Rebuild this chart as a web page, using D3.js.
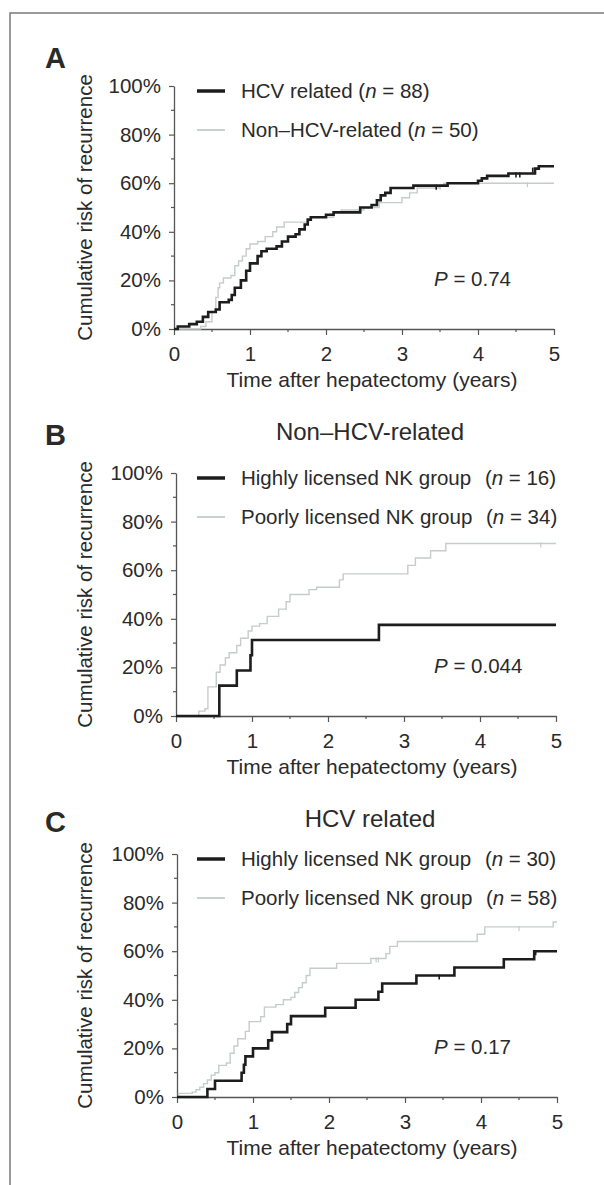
<!DOCTYPE html>
<html>
<head>
<meta charset="utf-8">
<script src="https://cdn.jsdelivr.net/npm/d3@7"></script>
<style>
  body { margin: 0; background: #fff; }
  svg text { font-family: "Liberation Sans", Arial, Helvetica, sans-serif; fill: #2a2a2a; }
</style>
</head>
<body>
<div id="chart"></div>
<script>
// Data (time in years, cumulative risk in %)
const timeTicks = [0, 1, 2, 3, 4, 5];
const pctTicks = [0, 20, 40, 60, 80, 100];

const aHcv = [[0,0],[0.05,1],[0.2,2],[0.3,3],[0.38,5],[0.45,7],[0.55,8],[0.6,11],[0.72,12],[0.76,14],[0.8,17],[0.88,20],[0.95,24],[1.0,27],[1.1,30],[1.15,32],[1.22,33],[1.35,34],[1.42,36],[1.5,38],[1.6,39],[1.65,41],[1.72,43],[1.76,45],[1.8,46],[2.0,47],[2.1,48],[2.45,50],[2.6,51],[2.67,53],[2.72,55],[2.78,56],[2.85,58],[3.15,59],[3.6,60],[4.0,61],[4.05,62],[4.12,63],[4.4,64],[4.75,66],[4.8,67],[5.0,67]];
const aNonHcv = [[0,0],[0.35,1],[0.42,3],[0.5,7],[0.55,13],[0.58,17],[0.6,19],[0.65,21],[0.75,22],[0.8,26],[0.85,28],[0.9,30],[0.95,33],[1.0,35],[1.1,36],[1.2,38],[1.3,40],[1.35,42],[1.45,44],[1.75,45],[1.8,46],[2.1,48],[2.2,49],[2.5,50],[2.7,52],[3.0,54],[3.1,56],[3.2,58],[3.5,59],[3.55,60],[5.0,60]];
const bHigh = [[0,0],[0.57,12.5],[0.8,18.75],[0.98,25],[1.0,31.25],[2.67,37.5],[5.0,37.5]];
const bPoor = [[0,0],[0.3,2],[0.38,3],[0.42,12],[0.53,18],[0.58,21],[0.65,24],[0.7,26],[0.8,29],[0.85,32],[0.95,35],[1.0,37],[1.1,38],[1.2,41],[1.35,44],[1.45,47],[1.5,50],[1.75,52],[1.85,53],[2.15,56],[2.2,58.5],[3.05,62],[3.15,65],[3.35,68],[3.55,71],[5.0,71]];
const cHigh = [[0,0],[0.4,3.3],[0.5,6.7],[0.85,10],[0.88,13.3],[0.9,16.7],[1.0,20],[1.2,23.3],[1.25,26.7],[1.45,30],[1.5,33.3],[1.95,36.7],[2.35,40],[2.65,43.3],[2.7,46.7],[3.15,50],[3.65,53.3],[4.3,56.7],[4.7,60],[5.0,60]];
const cPoor = [[0,0],[0.02,1.5],[0.2,2],[0.25,3],[0.3,4],[0.35,5.5],[0.4,7],[0.45,9],[0.5,10],[0.55,13],[0.65,14],[0.7,18],[0.75,21],[0.8,24],[0.9,27],[0.95,31],[1.1,33],[1.15,37],[1.3,38],[1.4,40],[1.5,41],[1.55,43],[1.6,45],[1.65,47],[1.7,50],[1.75,53],[2.1,55],[2.55,57],[2.75,59],[2.8,62],[2.9,64],[3.95,67],[4.05,70],[4.95,72],[5.0,72]];

// censored observations (small tick marks)
const aHcvCens = [[3.45,59],[4.5,64],[4.55,64],[4.72,66]];
const aNonCens = [[3.5,59],[4.65,60]];
const bPoorCens = [[4.8,71]];
const cHighCens = [[3.45,50],[4.72,60]];
const cPoorCens = [[2.62,57],[2.65,57],[4.5,70]];

const panelLetters = ["A", "B", "C"];
const panelTitles = [null, "Non\u2013HCV-related", "HCV related"];
const legendNames = [
  ["HCV related", "Non\u2013HCV-related"],
  ["Highly licensed NK group", "Poorly licensed NK group"],
  ["Highly licensed NK group", "Poorly licensed NK group"]
];
const legendN = [[88, 50], [16, 34], [30, 58]];
const pValues = ["0.74", "0.044", "0.17"];

const width = 604, height = 1185;
const black = "#1d1d1d", grey = "#c6ccc9";
const fs = 20.5;

const svg = d3.select("#chart").append("svg")
  .attr("width", width)
  .attr("height", height);

// frame (top and left edges only)
svg.append("path")
  .attr("d", `M${width},13H10V${height}`)
  .attr("fill", "none")
  .attr("stroke", "#7a7a7a")
  .attr("stroke-width", 1.5);

const layout = [
  { top: 86, left: 174, right: 554, letterY: 68, titleY: null },
  { top: 473, left: 176, right: 556, letterY: 445, titleY: 440 },
  { top: 854, left: 177, right: 557, letterY: 832, titleY: 827 }
];
const plotH = 243;

const series = [[aHcv, aNonHcv], [bHigh, bPoor], [cHigh, cPoor]];
const censors = [[aHcvCens, aNonCens], [[], bPoorCens], [cHighCens, cPoorCens]];

layout.forEach((L, i) => {
  const bottom = L.top + plotH;
  const x = d3.scaleLinear().domain([0, 5]).range([L.left, L.right]);
  const y = d3.scaleLinear().domain([0, 100]).range([bottom, L.top]);

  const g = svg.append("g");

  // panel letter
  g.append("text")
    .attr("x", 45)
    .attr("y", L.letterY)
    .attr("font-size", 29)
    .attr("font-weight", "bold")
    .text(panelLetters[i]);

  if (panelTitles[i]) {
    g.append("text")
      .attr("x", 370)
      .attr("y", L.titleY)
      .attr("text-anchor", "middle")
      .attr("font-size", 24)
      .text(panelTitles[i]);
  }

  // minor ticks
  const minorX = d3.range(0.5, 5, 1);
  g.selectAll(".mx").data(minorX).enter().append("line")
    .attr("x1", d => x(d)).attr("x2", d => x(d))
    .attr("y1", bottom).attr("y2", bottom + 3)
    .attr("stroke", "#555").attr("stroke-width", 1.2);
  const minorY = d3.range(10, 100, 20);
  g.selectAll(".my").data(minorY).enter().append("line")
    .attr("x1", L.left - 3).attr("x2", L.left)
    .attr("y1", d => y(d)).attr("y2", d => y(d))
    .attr("stroke", "#555").attr("stroke-width", 1.2);

  // axes
  const xAxis = g.append("g")
    .attr("transform", `translate(0,${bottom})`)
    .call(d3.axisBottom(x).tickValues(timeTicks).tickFormat(d3.format("d"))
      .tickSize(6).tickPadding(11).tickSizeOuter(0));
  const yAxis = g.append("g")
    .attr("transform", `translate(${L.left},0)`)
    .call(d3.axisLeft(y).tickValues(pctTicks).tickFormat(d => d + "%")
      .tickSize(5).tickPadding(8).tickSizeOuter(0));

  [xAxis, yAxis].forEach(ax => {
    ax.select(".domain").attr("stroke", "#555").attr("stroke-width", 1.3);
    ax.selectAll(".tick line").attr("stroke", "#555").attr("stroke-width", 1.2);
    ax.selectAll(".tick text")
      .attr("font-size", fs)
      .attr("font-family", "Liberation Sans, Arial, sans-serif")
      .attr("fill", "#2a2a2a");
  });

  // axis titles
  g.append("text")
    .attr("x", 372)
    .attr("y", bottom + 58)
    .attr("text-anchor", "middle")
    .attr("font-size", 21)
    .text("Time after hepatectomy (years)");

  g.append("text")
    .attr("transform", `translate(92,${(L.top + bottom) / 2}) rotate(-90)`)
    .attr("text-anchor", "middle")
    .attr("font-size", fs)
    .text("Cumulative risk of recurrence");

  // curves
  const line = d3.line()
    .x(d => x(d[0]))
    .y(d => y(d[1]))
    .curve(d3.curveStepAfter);

  [1, 0].forEach(k => {
    g.append("path")
      .datum(series[i][k])
      .attr("d", line)
      .attr("fill", "none")
      .attr("stroke", k === 0 ? black : grey)
      .attr("stroke-width", k === 0 ? 2.6 : 1.4);

    g.selectAll(null)
      .data(censors[i][k])
      .enter().append("line")
      .attr("x1", d => x(d[0])).attr("x2", d => x(d[0]))
      .attr("y1", d => y(d[1]) - 1).attr("y2", d => y(d[1]) + 4)
      .attr("stroke", k === 0 ? black : grey)
      .attr("stroke-width", k === 0 ? 1.6 : 1.2);
  });

  // legend
  [0, 1].forEach(k => {
    const ly = L.top + 5 + k * 39;
    g.append("line")
      .attr("x1", 197).attr("x2", 225)
      .attr("y1", ly).attr("y2", ly)
      .attr("stroke", k === 0 ? black : grey)
      .attr("stroke-width", k === 0 ? 3.5 : 1.8);

    const t = g.append("text")
      .attr("x", 241)
      .attr("y", ly + 7)
      .attr("font-size", fs);
    t.append("tspan").text(legendNames[i][k] + " ");
    t.append("tspan").attr("dx", i === 0 ? 0 : 8).text("(");
    t.append("tspan").attr("font-style", "italic").text("n");
    t.append("tspan").text(" = " + legendN[i][k] + ")");
  });

  // p value
  const p = g.append("text")
    .attr("x", 434)
    .attr("y", bottom - 43)
    .attr("font-size", fs);
  p.append("tspan").attr("font-style", "italic").text("P");
  p.append("tspan").text(" = " + pValues[i]);
});
</script>
</body>
</html>
